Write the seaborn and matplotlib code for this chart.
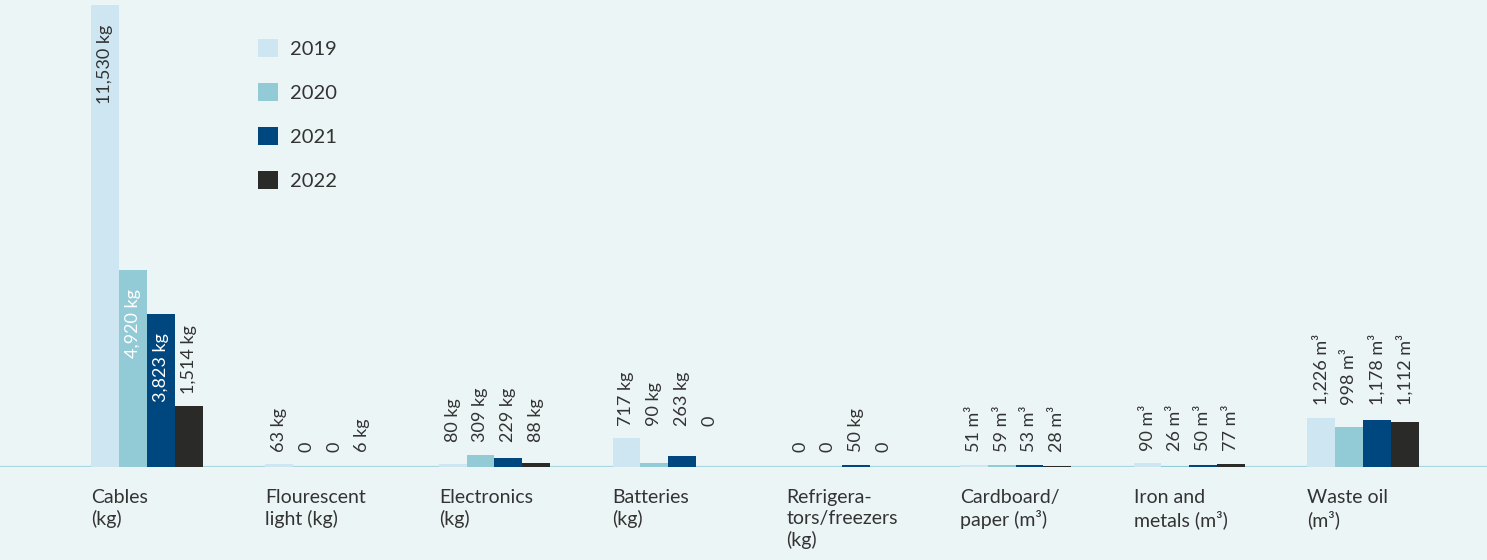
import pandas as pd
import seaborn as sns
import matplotlib.pyplot as plt

# data
categories = ['Cables\n(kg)', 'Flourescent\nlight (kg)', 'Electronics\n(kg)', 'Batteries\n(kg)',
              'Refrigera-\ntors/freezers\n(kg)', 'Cardboard/\npaper (m³)', 'Iron and\nmetals (m³)',
              'Waste oil\n(m³)']
units = ['kg', 'kg', 'kg', 'kg', 'kg', 'm³', 'm³', 'm³']
years = ['2019', '2020', '2021', '2022']
v2019 = [11530, 63, 80, 717, 0, 51, 90, 1226]
v2020 = [4920, 0, 309, 90, 0, 59, 26, 998]
v2021 = [3823, 0, 229, 263, 50, 53, 50, 1178]
v2022 = [1514, 6, 88, 0, 0, 28, 77, 1112]

colors = ['#cde6f1', '#92cbd6', '#00467f', '#2a2a29']
inside_colors = ['#333333', 'white', 'white', 'white']
bg = '#ecf5f6'
text_col = '#333333'

plt.rcParams['font.family'] = ['Lato', 'DejaVu Sans']

series = [v2019, v2020, v2021, v2022]
rows = []
for y, vals in zip(years, series):
    for c, v in zip(categories, vals):
        rows.append({'category': c, 'year': y, 'value': v})
df = pd.DataFrame(rows)

fig = plt.figure(figsize=(14.87, 5.6), dpi=100, facecolor=bg)
ax = fig.add_axes([0, 93 / 560, 1, 467 / 560])
ax.set_facecolor(bg)

sns.barplot(data=df, x='category', y='value', hue='year', palette=colors, saturation=1,
            width=0.64, linewidth=0, errorbar=None, ax=ax, zorder=2)

ax.set_ylim(0, 11655)
ax.set_xlim(-0.846, 7.714)
ax.axhline(0, color='#a9d6e0', lw=1.6, zorder=1)
for s in ax.spines.values():
    s.set_visible(False)
ax.set_xticks([])
ax.set_yticks([])
ax.set_xlabel('')
ax.set_ylabel('')

# value labels
for i in range(len(categories)):
    vals = [s[i] for s in series]
    inside = [v > 3000 for v in vals]
    outside_vals = [v for v, ins in zip(vals, inside) if not ins]
    level = max(outside_vals) if outside_vals else 0
    for j, v in enumerate(vals):
        bar = ax.containers[j][i]
        xc = bar.get_x() + bar.get_width() / 2
        label = '0' if v == 0 else f'{v:,} {units[i]}'
        if inside[j]:
            ax.annotate(label, (xc, v), xytext=(0, -14), textcoords='offset points',
                        rotation=90, ha='center', va='top', fontsize=13,
                        color=inside_colors[j])
        else:
            ax.annotate(label, (xc, level), xytext=(0, 9), textcoords='offset points',
                        rotation=90, ha='center', va='bottom', fontsize=13,
                        color=text_col)

# category labels under the groups
for i, c in enumerate(categories):
    ax.annotate(c, (i - 0.32, 0), xytext=(0, -16), textcoords='offset points',
                ha='left', va='top', fontsize=14, color=text_col, linespacing=1.25,
                annotation_clip=False)

handles, labels = ax.get_legend_handles_labels()
ax.legend(handles, labels, loc='upper left', bbox_to_anchor=(258 / 1487, 1 - 39 / 560),
          bbox_transform=fig.transFigure, frameon=False, fontsize=14.5,
          handlelength=1.0, handleheight=1.0, handletextpad=0.6,
          labelspacing=1.25, borderpad=0, borderaxespad=0, labelcolor=text_col)

fig.savefig('out.png', dpi=100, facecolor=bg)
